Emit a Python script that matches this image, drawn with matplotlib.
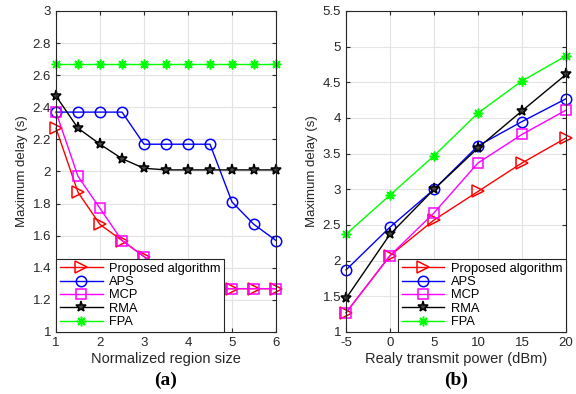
import matplotlib
matplotlib.use('Agg')
import matplotlib.pyplot as plt

plt.rcParams['font.family'] = ['Liberation Sans', 'DejaVu Sans']
plt.rcParams['axes.unicode_minus'] = False

# (a) delay vs normalized region size
region = [1, 1.5, 2, 2.5, 3, 3.5, 4, 4.5, 5, 5.5, 6]
a_proposed = [2.27, 1.87, 1.67, 1.57, 1.47, 1.37, 1.27, 1.27, 1.27, 1.27, 1.27]
a_aps = [2.37, 2.37, 2.37, 2.37, 2.17, 2.17, 2.17, 2.17, 1.81, 1.67, 1.57]
a_mcp = [2.37, 1.97, 1.77, 1.57, 1.47, 1.37, 1.27, 1.27, 1.27, 1.27, 1.27]
a_rma = [2.47, 2.27, 2.17, 2.08, 2.02, 2.01, 2.01, 2.01, 2.01, 2.01, 2.01]
a_fpa = [2.67, 2.67, 2.67, 2.67, 2.67, 2.67, 2.67, 2.67, 2.67, 2.67, 2.67]

# (b) delay vs relay transmit power
power = [-5, 0, 5, 10, 15, 20]
b_proposed = [1.27, 2.07, 2.57, 2.97, 3.37, 3.72]
b_aps = [1.87, 2.47, 3.0, 3.61, 3.95, 4.27]
b_mcp = [1.27, 2.07, 2.67, 3.37, 3.77, 4.11]
b_rma = [1.47, 2.37, 3.0, 3.58, 4.1, 4.61]
b_fpa = [2.37, 2.92, 3.47, 4.07, 4.52, 4.87]

names = ['Proposed algorithm', 'APS', 'MCP', 'RMA', 'FPA']
colors = ['red', 'blue', 'magenta', 'black', '#00ff00']
markers = ['>', 'o', 's', '*', (8, 2, 0)]
sizes = [8, 7.5, 6.5, 8, 7]

fig = plt.figure(figsize=(5.76, 3.94), dpi=100)
ax1 = fig.add_axes([56 / 576, 1 - 332 / 394, 220 / 576, 321 / 394])
ax2 = fig.add_axes([346 / 576, 1 - 332 / 394, 220 / 576, 321 / 394])


def style(ax):
    ax.grid(True, color='#e3e3e3', linewidth=0.8)
    ax.set_axisbelow(True)
    for s in ax.spines.values():
        s.set_color('#262626')
        s.set_linewidth(0.8)
    ax.tick_params(direction='in', labelsize=9.5, colors='#262626', length=3,
                   top=True, right=True, labeltop=False, labelright=False)


def draw(ax, x, series):
    for y, n, c, m, ms in zip(series, names, colors, markers, sizes):
        mfc = 'none' if m in ('>', 'o', 's') else c
        if n == 'RMA':
            mfc = '#444444'
        ax.plot(x, y, color=c, marker=m, markersize=ms, markerfacecolor=mfc,
                markeredgewidth=1.1, linewidth=1.0, label=n, clip_on=False)


def add_legend(ax, loc):
    leg = ax.legend(loc=loc, fontsize=9.3, frameon=True, fancybox=False, framealpha=1,
                    edgecolor='#262626', borderaxespad=0, handlelength=3.3,
                    labelspacing=0.1, borderpad=0.3, handletextpad=0.5)
    leg.get_frame().set_linewidth(0.8)
    leg.set_zorder(10)


draw(ax1, region, [a_proposed, a_aps, a_mcp, a_rma, a_fpa])
ax1.set_xlim(1, 6)
ax1.set_ylim(1, 3)
ax1.set_xticks([1, 2, 3, 4, 5, 6])
ax1.set_yticks([1, 1.2, 1.4, 1.6, 1.8, 2, 2.2, 2.4, 2.6, 2.8, 3])
ax1.set_yticklabels(['1', '1.2', '1.4', '1.6', '1.8', '2', '2.2', '2.4', '2.6', '2.8', '3'])
ax1.set_xlabel('Normalized region size', fontsize=10.5, color='#262626', labelpad=2)
ax1.set_ylabel('Maximum delay (s)', fontsize=9.5, color='#262626', labelpad=3)
style(ax1)
add_legend(ax1, 'lower left')

draw(ax2, power, [b_proposed, b_aps, b_mcp, b_rma, b_fpa])
ax2.set_xlim(-5, 20)
ax2.set_ylim(1, 5.5)
ax2.set_xticks([-5, 0, 5, 10, 15, 20])
ax2.set_yticks([1, 1.5, 2, 2.5, 3, 3.5, 4, 4.5, 5, 5.5])
ax2.set_yticklabels(['1', '1.5', '2', '2.5', '3', '3.5', '4', '4.5', '5', '5.5'])
ax2.set_xlabel('Realy transmit power (dBm)', fontsize=10.5, color='#262626', labelpad=2)
ax2.set_ylabel('Maximum delay (s)', fontsize=9.5, color='#262626', labelpad=3)
style(ax2)
add_legend(ax2, 'lower right')

fig.text(166 / 576, 1 - 380 / 394, '(a)', ha='center', va='center', fontsize=14,
         fontweight='bold', family='Liberation Serif')
fig.text(456 / 576, 1 - 380 / 394, '(b)', ha='center', va='center', fontsize=14,
         fontweight='bold', family='Liberation Serif')

fig.savefig('out.png', dpi=100)
